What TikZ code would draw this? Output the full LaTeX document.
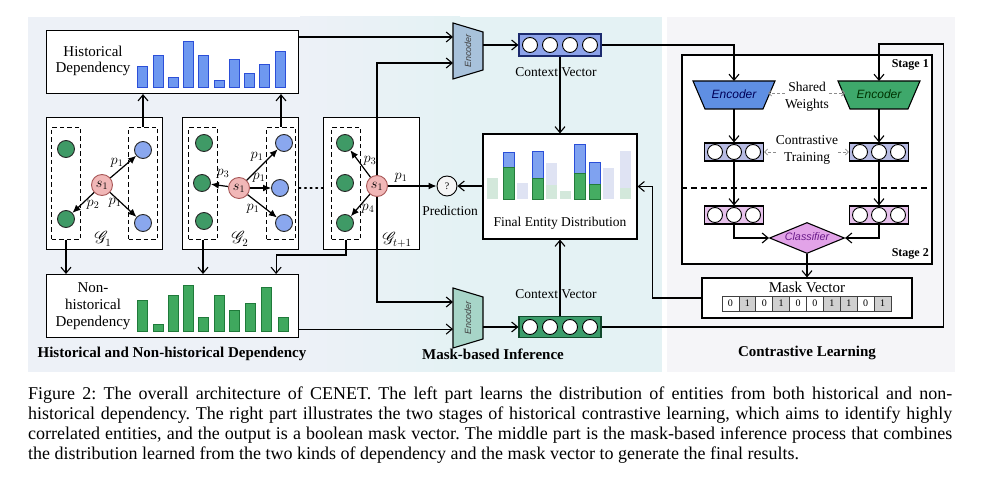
\documentclass[tikz,border=0pt]{standalone}
\usepackage{fontspec}
\setmainfont{Liberation Serif}
\setsansfont{Liberation Sans}
\usepackage{mathrsfs}
\usetikzlibrary{arrows.meta,calc,shapes.geometric}

\definecolor{bgL}{HTML}{EDF1F7}
\definecolor{bgM}{HTML}{E4F2F4}
\definecolor{bgR}{HTML}{F5F5F8}
\definecolor{hbar}{HTML}{6E98F0}
\definecolor{hbarD}{HTML}{2C4FD8}
\definecolor{nbar}{HTML}{3FA85E}
\definecolor{nbarD}{HTML}{1F7A3A}
\definecolor{gnode}{HTML}{3F9A66}
\definecolor{bnode}{HTML}{8AA7EE}
\definecolor{snode}{HTML}{F1B7B7}
\definecolor{sdark}{HTML}{A85858}
\definecolor{encA}{HTML}{A8C2DB}
\definecolor{encB}{HTML}{A7D5C8}
\definecolor{cvA}{HTML}{8DA3EA}
\definecolor{cvAD}{HTML}{1B2A6E}
\definecolor{cvB}{HTML}{3C9D6B}
\definecolor{cvBD}{HTML}{10492B}
\definecolor{encBlue}{HTML}{5F8FE3}
\definecolor{encGreen}{HTML}{3EA86B}
\definecolor{vecS1}{HTML}{B7BBE3}
\definecolor{vecS2}{HTML}{E6C1EB}
\definecolor{clsf}{HTML}{E2A3E8}
\definecolor{clsT}{HTML}{6A1A8A}
\definecolor{cellG}{HTML}{D0D0D0}
\definecolor{fgreen}{HTML}{D3E8DB}
\definecolor{flav}{HTML}{DFE3F3}
\definecolor{fedG}{HTML}{45AD62}
\definecolor{fedGD}{HTML}{237A3B}
\definecolor{fedB}{HTML}{7FA2F0}
\definecolor{fedBD}{HTML}{2A4FD8}

\begin{document}
\frenchspacing
\begin{tikzpicture}[x=1pt,y=-1pt,
  box/.style={draw=black, fill=white, line width=1.1pt, inner sep=0pt},
  dbox/.style={draw=black, dash pattern=on 4.5pt off 3pt, line width=1pt, inner sep=0pt, anchor=north west},
  lbl/.style={font=\fontsize{13.5}{16.5}\selectfont, align=center, inner sep=0pt},
  biglbl/.style={font=\fontsize{15}{16.8}\selectfont, align=center, inner sep=0pt},
  ttl/.style={font=\fontsize{15}{17}\selectfont\bfseries, inner sep=0pt},
  stg/.style={font=\fontsize{12}{13}\selectfont\bfseries, inner sep=0pt},
  arr/.style={line width=1.1pt, -{Straight Barb[length=6pt,width=10pt]}},
  garr/.style={line width=1.2pt, -{Latex[length=8pt,width=7pt]}},
  darr/.style={draw=black!45, line width=0.8pt, dash pattern=on 3pt off 2pt, -{Straight Barb[length=3pt,width=6pt]}},
  gn/.style={circle, draw=black!85, line width=0.9pt, fill=gnode, minimum size=17pt, inner sep=0pt},
  bn/.style={circle, draw=black!85, line width=0.9pt, fill=bnode, minimum size=17pt, inner sep=0pt},
  sn/.style={circle, draw=sdark, line width=0.9pt, fill=snode, minimum size=21pt, inner sep=0pt, font=\fontsize{14}{14}\selectfont},
  plab/.style={inner sep=0pt, font=\fontsize{14}{14}\selectfont},
  glab/.style={inner sep=0pt, font=\fontsize{16}{16}\selectfont},
  hb/.style={fill=hbar, draw=hbarD, line width=0.8pt},
  nb/.style={fill=nbar, draw=nbarD, line width=0.8pt},
  enctxt/.style={font=\sffamily\itshape\fontsize{9}{9}\selectfont, text=black!75, inner sep=0pt},
  enctxtb/.style={font=\sffamily\itshape\fontsize{12}{12}\selectfont, inner sep=0pt},
  ghost/.style={inner sep=0pt, outer sep=0pt},
  vecbox/.style={draw, line width=1.1pt, inner sep=0pt},
  cir/.style={circle, draw=black, fill=white, line width=0.9pt, minimum size=15pt, inner sep=0pt},
  cellbox/.style={draw=black!75, line width=0.7pt, minimum width=16.9pt, minimum height=15pt, inner sep=0pt, font=\fontsize{10}{10}\selectfont},
  captxt/.style={anchor=base west, inner sep=0pt, font=\fontsize{18}{19.7}\selectfont}
]
\useasboundingbox (0,0) rectangle (986,478);

% ---------- backgrounds ----------
\fill[bgL] (28,17) rectangle (300,372);
\shade[left color=bgL, right color=bgM] (300,17) rectangle (460,372);
\fill[bgM] (460,17) rectangle (662,372);
\fill[bgR] (667,17) rectangle (955,372);

% ---------- left: historical dependency ----------
\node[box, anchor=north west, minimum width=252pt, minimum height=63pt] (hist) at (46,30) {};
\node[biglbl] (histlbl) at (93,61) {Historical\\Dependency};
\foreach \x/\h in {137/21,153/32,168/10,183/46,198/32,214/7,229/28,244/14,259/23,275/36}
  \draw[hb] (\x,87) rectangle ++(10,-\h);

% ---------- non-historical ----------
\node[box, anchor=north west, minimum width=252pt, minimum height=63pt] (nh) at (46,274) {};
\node[biglbl] (nhlbl) at (93,306) {Non-\\historical\\Dependency};
\foreach \x/\h in {137/31,153/7,168/36,183/46,198/14,214/36,229/21,245/28,261/44,278/14}
  \draw[nb] (\x,331) rectangle ++(10,-\h);

% ---------- G1 ----------
\node[box, anchor=north west, minimum width=116pt, minimum height=132pt] (g1) at (46,117) {};
\node[dbox, minimum width=29pt, minimum height=112pt] (g1L) at (51,127) {};
\node[dbox, minimum width=29pt, minimum height=112pt] (g1R) at (128,127) {};
\node[gn] (g1a) at (66,149) {};
\node[gn] (g1b) at (66,219) {};
\node[bn] (g1c) at (143,150) {};
\node[bn] (g1d) at (143,223) {};
\node[sn] (g1s) at (102,185) {$s_1$};
\draw[garr] (g1s) -- (g1c);
\draw[garr] (g1s) -- (g1b);
\draw[garr] (g1s) -- (g1d);
\node[plab] (g1p1) at (117,163) {$p_1$};
\node[plab] (g1p2) at (93,205) {$p_2$};
\node[plab] (g1p3) at (115,203) {$p_1$};
\node[glab] (g1lab) at (103,239) {$\mathscr{G}_1$};

% ---------- G2 ----------
\node[box, anchor=north west, minimum width=116pt, minimum height=132pt] (g2) at (182,117) {};
\node[dbox, minimum width=29pt, minimum height=112pt] (g2L) at (188,127) {};
\node[dbox, minimum width=29pt, minimum height=112pt] (g2R) at (266,127) {};
\node[gn] (g2a) at (204,143) {};
\node[gn] (g2b) at (202,183) {};
\node[gn] (g2c) at (204,221) {};
\node[bn] (g2d) at (284,143) {};
\node[bn] (g2e) at (280,188) {};
\node[bn] (g2f) at (284,223) {};
\node[sn] (g2s) at (239,188) {$s_1$};
\draw[garr] (g2s) -- (g2b);
\draw[garr] (g2s) -- (g2d);
\draw[garr] (g2s) -- (g2e);
\draw[garr] (g2s) -- (g2f);
\node[plab] (g2p3) at (223,174) {$p_3$};
\node[plab] (g2p1) at (257,157) {$p_1$};
\node[plab] (g2p2) at (259,178) {$p_1$};
\node[plab] (g2p4) at (253,209) {$p_1$};
\node[glab] (g2lab) at (240,239) {$\mathscr{G}_2$};

% ---------- G t+1 ----------
\node[box, anchor=north west, minimum width=96pt, minimum height=132pt] (gt) at (323,117) {};
\node[dbox, minimum width=29pt, minimum height=112pt] (gtL) at (331,127) {};
\node[gn] (gta) at (345,143) {};
\node[gn] (gtb) at (345,183) {};
\node[gn] (gtc) at (345,223) {};
\coordinate (gtsc) at (377,186);

\draw[line width=1.5pt, dash pattern=on 1.6pt off 4pt, line cap=round] (g2.east |- g2e) -- (gt.west |- g2e);

% ---------- middle: encoders ----------
\node[ghost, minimum width=30pt, minimum height=56pt] (encT) at (468,51) {};
\draw[line width=1.1pt, fill=encA] (encT.north west) -- ($(encT.north east)+(0,9)$) -- ($(encT.south east)+(0,-9)$) -- (encT.south west) -- cycle;
\node[enctxt, rotate=90] (encTt) at (encT) {Encoder};
\node[ghost, minimum width=30pt, minimum height=60pt] (encB) at (468,318) {};
\draw[line width=1.1pt, fill=encB] (encB.north west) -- ($(encB.north east)+(0,9)$) -- ($(encB.south east)+(0,-9)$) -- (encB.south west) -- cycle;
\node[enctxt, rotate=90] (encBt) at (encB) {Encoder};

% lines from query entity to both encoders
\draw[arr] (gtsc) |- ($(encT.west)+(0,12)$);
\draw[arr] (gtsc) |- ($(encB.west)+(0,-16)$);
\node[sn] (gts) at (gtsc) {$s_1$};
\draw[garr] (gts) -- (gta);
\draw[garr] (gts) -- (gtc);
\node[plab] (gtp3) at (370,161) {$p_3$};
\node[plab] (gtp4) at (368,209) {$p_4$};
\node[glab] (gtlab) at (397,240) {$\mathscr{G}_{t+1}$};

% connectors left part
\draw[arr] (g1R.north) -- (g1R.north |- hist.south);
\draw[arr] (g2R.north) -- (g2R.north |- hist.south);
\draw[arr] (g1L.south) -- (g1L.south |- nh.north);
\draw[arr] (g2L.south) -- (g2L.south |- nh.north);
\draw[arr] (gtL.south) -- ++(0,15) -| ($(nh.north east)+(-23,0)$);
\coordinate (histout) at ($(hist.north east)+(0,7)$);
\coordinate (nhout) at ($(nh.south east)+(0,-9)$);
\draw[arr] (histout) -- (histout -| encT.west);
\draw[arr] (nhout) -- (nhout -| encB.west);

% context vectors
\node[vecbox, draw=cvAD, fill=cvA, minimum width=82pt, minimum height=22pt] (cvT) at (560,45) {};
\foreach \dx [count=\k] in {-30,-10,10,30} \node[cir] (cvT\k) at ($(cvT)+(\dx,0)$) {};
\node[vecbox, draw=cvBD, fill=cvB, minimum width=82pt, minimum height=21pt] (cvB) at (560,327) {};
\foreach \dx [count=\k] in {-30,-10,10,30} \node[cir] (cvB\k) at ($(cvB)+(\dx,0)$) {};
\node[lbl] (cvTl) at (556,72) {Context Vector};
\node[lbl] (cvBl) at (556,294) {Context Vector};
\draw[arr] (encT.east |- cvT) -- (cvT.west);
\draw[arr] (encB.east |- cvB) -- (cvB.west);

% final entity distribution
\node[box, minimum width=154pt, minimum height=105pt] (fed) at (560,186.5) {};
\foreach \x/\t/\c in {487/178/fgreen,517/183/flav,546/163/flav,560/191/fgreen,603/168/flav,620/151/flav}
  \fill[\c] (\x,199) rectangle (\x+11,\t);
\fill[fgreen] (546,199) rectangle (557,185);
\fill[fgreen] (620,199) rectangle (631,188);
\foreach \x/\g/\b in {503/167/152,532/178/151,574/173/144,589/184/162}{
  \draw[fill=fedB, draw=fedBD, line width=0.9pt] (\x,\g) rectangle (\x+11,\b);
  \draw[fill=fedG, draw=fedGD, line width=0.9pt] (\x,199) rectangle (\x+11,\g);
}
\node[lbl] (fedl) at (560,223) {Final Entity Distribution};
\draw[arr] (cvT.south) -- (fed.north);
\draw[arr] (cvB.north) -- (fed.south);

% prediction
\node[circle, draw=black, line width=0.9pt, fill=black!4, minimum size=20pt, inner sep=0pt, font=\fontsize{10}{10}\selectfont] (pred) at (447,186) {?};
\node[lbl] (predl) at (450,211) {Prediction};
\draw[garr] (gts) -- (pred);
\node[plab] (gtp1) at (401,178) {$p_1$};
\draw[arr] (fed.west |- pred) -- (pred);

% ---------- right: contrastive learning ----------
\node[box, minimum width=250pt, minimum height=209pt] (stage) at (807,159.5) {};
\draw[line width=1.3pt, dash pattern=on 6pt off 4pt] (stage.west |- 0,188) -- (stage.east |- 0,188);
\node[stg, anchor=north east] (st1) at (929,59) {Stage 1};
\node[stg, anchor=south east] (st2) at (929,259) {Stage 2};

\node[ghost, minimum width=82pt, minimum height=28pt] (encL) at (734,95) {};
\draw[line width=1.1pt, fill=encBlue] (encL.north west) -- (encL.north east) -- ($(encL.south east)+(-12,0)$) -- ($(encL.south west)+(12,0)$) -- cycle;
\node[enctxtb, text=blue!35!black] (encLt) at (734,94) {Encoder};
\node[ghost, minimum width=82pt, minimum height=28pt] (encR) at (879,95) {};
\draw[line width=1.1pt, fill=encGreen] (encR.north west) -- (encR.north east) -- ($(encR.south east)+(-12,0)$) -- ($(encR.south west)+(12,0)$) -- cycle;
\node[enctxtb, text=green!20!black] (encRt) at (879,94) {Encoder};

\node[lbl] (sw) at (807,97) {Shared\\Weights};
\draw[darr] (sw.west |- 0,93) -- (768,93);
\draw[darr] (sw.east |- 0,93) -- (845,93);

\node[vecbox, fill=vecS1, minimum width=59pt, minimum height=18pt] (vL1) at (734,152) {};
\node[vecbox, fill=vecS1, minimum width=59pt, minimum height=18pt] (vR1) at (879,152) {};
\node[vecbox, fill=vecS2, minimum width=59pt, minimum height=18pt] (vL2) at (734,215) {};
\node[vecbox, fill=vecS2, minimum width=59pt, minimum height=18pt] (vR2) at (879,215) {};
\foreach \v in {vL1,vR1,vL2,vR2}
  \foreach \dx [count=\k] in {-19,0,19} \node[cir] (\v c\k) at ($(\v)+(\dx,0)$) {};

\node[lbl] (ct) at (807,150) {Contrastive\\Training};
\draw[darr] (ct.west |- vL1) -- (vL1.east);
\draw[darr] (ct.east |- vR1) -- (vR1.west);

\draw[arr] (cvT.east) -| (encL.north);
\draw[arr] (cvB.east) -- ++(342,0) -- ++(0,-283) -| (encR.north);
\draw[arr] (encL.south) -- (vL1.north);
\draw[arr] (encR.south) -- (vR1.north);
\draw[arr] (vL1.south) -- (vL2.north);
\draw[arr] (vR1.south) -- (vR2.north);

\node[diamond, draw=black, line width=1.1pt, fill=clsf, minimum width=75pt, minimum height=31pt, inner sep=0pt] (cls) at (807,238) {};
\node[inner sep=0pt, font=\sffamily\itshape\fontsize{10.8}{11}\selectfont, text=clsT] (clst) at (807,237) {Classifier};
\draw[arr] (vL2.south) |- (cls.west);
\draw[arr] (vR2.south) |- (cls.east);

\node[box, minimum width=210pt, minimum height=40pt] (mask) at (807,298) {};
\draw[arr] (cls.south) -- (mask.north);
\node[biglbl] (maskl) at (807,287) {Mask Vector};
\foreach \i/\v/\c in {0/0/white,1/1/cellG,2/0/white,3/1/cellG,4/0/white,5/0/white,6/1/cellG,7/1/cellG,8/0/white,9/1/cellG}
  \node[cellbox, fill=\c] (m\i) at (730.45+16.9*\i,303.5) {\v};
\draw[arr] (mask.west) -| ($(fed.east)+(15,0)$) -- (fed.east);

% ---------- section titles ----------
\node[ttl] (t1) at (172,354) {Historical and Non-historical Dependency};
\node[ttl] (t2) at (493,354) {Mask-based Inference};
\node[ttl] (t3) at (807,353) {Contrastive Learning};

% ---------- caption ----------
\node[captxt] (c1) at (28,400) {\hbox to 924pt{Figure 2: The overall architecture of CENET. The left part learns the distribution of entities from both historical and non-}};
\node[captxt] (c2) at (28,419.7) {\hbox to 924pt{historical dependency. The right part illustrates the two stages of historical contrastive learning, which aims to identify highly}};
\node[captxt] (c3) at (28,439.4) {\hbox to 924pt{correlated entities, and the output is a boolean mask vector. The middle part is the mask-based inference process that combines}};
\node[captxt] (c4) at (28,459) {the distribution learned from the two kinds of dependency and the mask vector to generate the final results.};
\end{tikzpicture}
\end{document}
